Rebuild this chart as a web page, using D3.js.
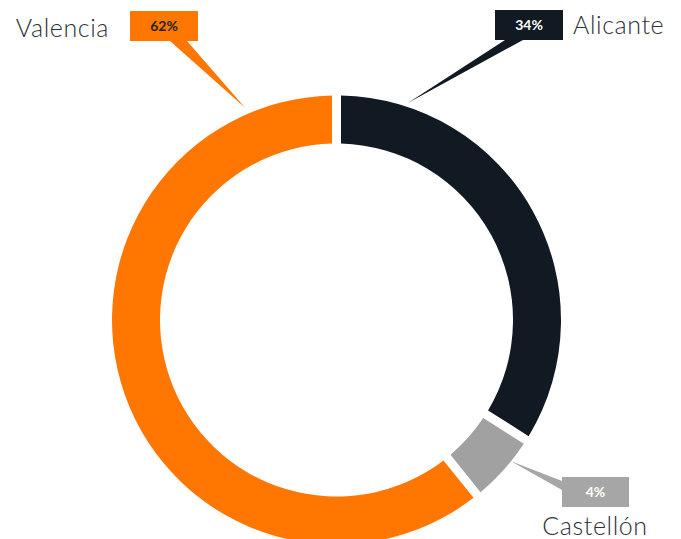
<!DOCTYPE html>
<html><head><meta charset="utf-8">
<script src="https://cdn.jsdelivr.net/npm/d3@7"></script>
<style>html,body{margin:0;padding:0;background:#fff;}svg{display:block;}</style>
</head><body>
<svg id="c" width="681" height="539"></svg>
<script>
const categories = ["Alicante", "Castellón", "Valencia"];
const values = [34, 4, 62];
const colors = ["#111a22", "#a1a1a1", "#ff7700"];
const boxColors = ["#111a22", "#a6a6a6", "#ff7700"];
const pctTextColors = ["#ffffff", "#ffffff", "#222222"];

// layout for callouts (annotation geometry)
const layout = {
  cx: 336.5, cy: 320, outer: 224.5, inner: 176.5, gap: 9,
  callouts: [
    {box: [495, 10, 68, 30], base: [[505, 40], [523, 40]], tipAngle: 18.2, tipR: 228.5,
     label: {x: 573, y: 34, anchor: "start"}},
    {box: [562, 477, 67, 30], base: [[562, 481], [562, 490]], tipAngle: 129, tipR: 224,
     label: {x: 595, y: 535, anchor: "middle"}},
    {box: [130, 11, 68, 30], base: [[170, 41], [187, 41]], tipAngle: -23.3, tipR: 231,
     label: {x: 109, y: 37, anchor: "end"}}
  ]
};

const svg = d3.select("#c");
const g = svg.append("g").attr("transform", `translate(${layout.cx},${layout.cy})`);

const data = categories.map((c, i) => ({name: c, value: values[i], i}));
const padR = 100;
const pie = d3.pie().value(d => d.value).sort(null).padAngle(layout.gap / padR);
const arc = d3.arc().innerRadius(layout.inner).outerRadius(layout.outer).padRadius(padR);
const arcs = pie(data);

g.selectAll("path.slice").data(arcs).enter().append("path")
  .attr("class", "slice").attr("d", arc).attr("fill", d => colors[d.data.i]);

const total = d3.sum(values);
arcs.forEach((a, k) => {
  const co = layout.callouts[k];
  const ang = co.tipAngle * Math.PI / 180;
  const tip = [layout.cx + co.tipR * Math.sin(ang), layout.cy - co.tipR * Math.cos(ang)];
  svg.append("path")
    .attr("d", d3.line()([co.base[0], tip, co.base[1]]) + "Z")
    .attr("fill", boxColors[a.data.i]);
  svg.append("rect").attr("x", co.box[0]).attr("y", co.box[1])
    .attr("width", co.box[2]).attr("height", co.box[3]).attr("fill", boxColors[a.data.i]);
  svg.append("text").attr("x", co.box[0] + co.box[2] / 2).attr("y", co.box[1] + co.box[3] / 2 + 5)
    .attr("text-anchor", "middle").attr("font-family", "Lato, 'Open Sans', sans-serif")
    .attr("font-weight", 700).attr("font-size", 14).attr("fill", pctTextColors[a.data.i])
    .text(Math.round(a.data.value / total * 100) + "%");
  svg.append("text").attr("x", co.label.x).attr("y", co.label.y)
    .attr("text-anchor", co.label.anchor).attr("font-family", "Lato, 'Open Sans', sans-serif")
    .attr("font-weight", 300).attr("font-size", 25).attr("letter-spacing", 0.6)
    .attr("fill", "#2b3038")
    .text(a.data.name);
});
</script>
</body></html>
